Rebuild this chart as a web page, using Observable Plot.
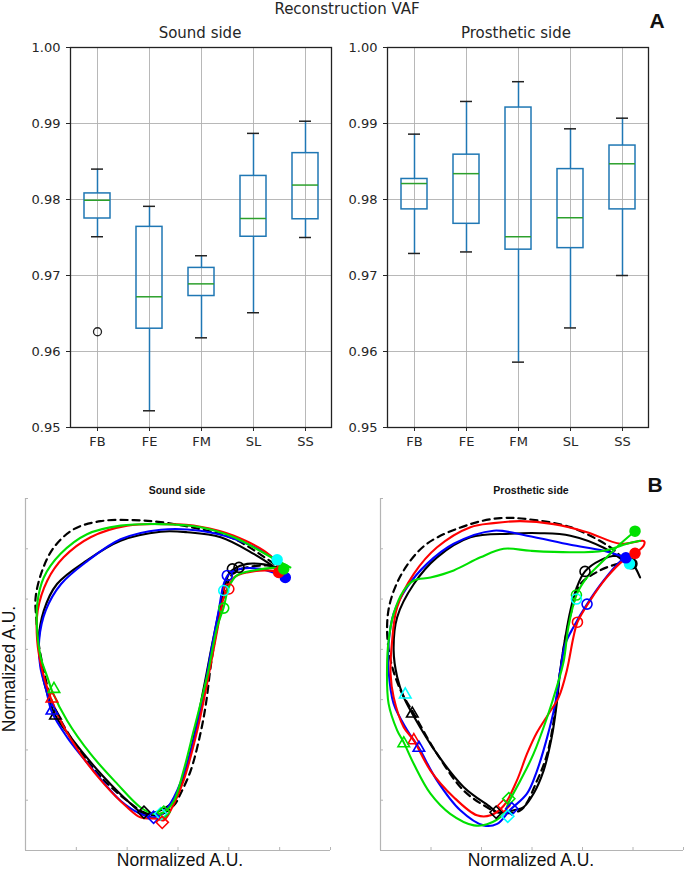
<!DOCTYPE html>
<html><head><meta charset="utf-8">
<script src="https://cdn.jsdelivr.net/npm/d3@7"></script>
<script src="https://cdn.jsdelivr.net/npm/@observablehq/plot@0.6"></script>
<style>
body{margin:0;background:#fff}
#fig{position:relative;width:685px;height:872px;overflow:hidden;background:#fff}
.t{position:absolute;white-space:nowrap;transform:translate(-50%,-50%);line-height:1}
</style></head><body><div id="fig"></div>
<script>
// ---------- Panel A data (box plot summaries) ----------
const cats = ["FB","FE","FM","SL","SS"];
const yTicks = [0.95,0.96,0.97,0.98,0.99,1.00];

const soundLow  = [0.9751,0.9522,0.9618,0.9651,0.9750];
const soundQ1   = [0.9775,0.9630,0.9673,0.9751,0.9774];
const soundMed  = [0.9799,0.9672,0.9689,0.9775,0.9819];
const soundQ3   = [0.9808,0.9764,0.9710,0.9831,0.9861];
const soundHigh = [0.9840,0.9791,0.9726,0.9887,0.9903];
const soundOutCat = ["FB"];
const soundOutVal = [0.9626];

const prosLow  = [0.9729,0.9731,0.9586,0.9631,0.9700];
const prosQ1   = [0.9787,0.9768,0.9734,0.9736,0.9787];
const prosMed  = [0.9821,0.9834,0.9751,0.9776,0.9847];
const prosQ3   = [0.9827,0.9859,0.9921,0.9840,0.9871];
const prosHigh = [0.9886,0.9929,0.9955,0.9893,0.9907];
const prosOutCat = [];
const prosOutVal = [];

// ---------- Panel B data (loops, normalized units) ----------
const seriesNames  = ["K","B","R","G","C"];
const seriesColors = ["#000000","#0000ff","#ff0000","#00e000","#00ffff"];

const soundDashed = [[4.89,5.70],[4.10,6.20],[3.44,6.39],[2.66,6.53],[2.13,6.57],[1.48,6.55],[0.95,6.39],[0.56,6.03],[0.33,5.57],[0.20,5.04],[0.21,4.64],[0.26,4.11],[0.36,3.58],[0.49,3.05],[0.66,2.65],[0.89,2.25],[1.21,1.79],[1.61,1.33],[2.00,0.99],[2.33,0.76],[2.62,0.70],[2.92,0.90],[3.05,1.13],[3.25,1.59],[3.44,2.32],[3.55,2.92],[3.65,3.71],[3.77,4.44],[3.87,4.90],[3.97,5.30],[4.10,5.53],[4.36,5.63],[4.75,5.67],[5.02,5.63]];
const soundBlack = [[4.85,5.67],[4.49,5.90],[3.84,6.23],[3.18,6.33],[2.66,6.34],[1.87,6.16],[1.21,5.77],[0.62,5.30],[0.36,4.77],[0.26,4.17],[0.30,3.71],[0.39,3.25],[0.59,2.68],[0.89,2.25],[1.54,1.46],[2.07,0.93],[2.33,0.73],[2.66,0.80],[2.92,0.99],[3.11,1.46],[3.31,2.25],[3.51,3.25],[3.70,4.24],[3.87,5.04],[4.00,5.50],[4.10,5.60],[4.36,5.70],[4.69,5.69],[4.95,5.63]];
const soundBlue = [[5.11,5.43],[4.89,5.80],[4.10,6.20],[3.44,6.36],[2.66,6.38],[1.87,6.19],[1.21,5.75],[0.70,5.30],[0.40,4.78],[0.27,4.20],[0.29,3.66],[0.41,3.18],[0.52,2.75],[0.82,2.25],[1.34,1.59],[1.87,0.99],[2.26,0.73],[2.52,0.66],[2.72,0.76],[2.92,1.06],[3.18,1.72],[3.44,2.78],[3.64,3.91],[3.80,4.77],[3.90,5.30],[4.00,5.50],[4.23,5.60],[4.62,5.60],[4.95,5.50],[5.11,5.43]];
const soundRed = [[5.02,5.53],[4.82,5.86],[4.10,6.26],[3.44,6.44],[2.79,6.49],[2.00,6.46],[1.28,6.23],[0.75,5.83],[0.43,5.37],[0.24,4.77],[0.23,4.17],[0.33,3.58],[0.49,3.05],[0.72,2.52],[1.08,1.92],[1.54,1.33],[2.00,0.86],[2.26,0.66],[2.59,0.63],[2.72,0.60],[2.92,0.93],[3.11,1.39],[3.38,2.39],[3.57,3.31],[3.77,4.37],[3.90,5.04],[3.97,5.21],[4.10,5.43],[4.36,5.53],[4.75,5.57],[5.02,5.53]];
const soundGreen = [[5.21,5.63],[4.89,5.80],[4.10,6.23],[3.44,6.43],[2.66,6.49],[1.87,6.46],[1.21,6.29],[0.69,5.90],[0.36,5.43],[0.23,4.90],[0.23,4.37],[0.30,3.84],[0.43,3.45],[0.52,3.18],[0.82,2.58],[1.28,1.92],[1.80,1.33],[2.26,0.86],[2.52,0.73],[2.72,0.76],[2.92,0.99],[3.11,1.59],[3.31,2.39],[3.57,3.45],[3.77,4.44],[3.90,4.84],[4.00,5.24],[4.16,5.47],[4.49,5.57],[4.89,5.62],[5.08,5.60]];

const soundFilled = [["B",5.11,5.43],["R",4.98,5.53],["G",5.08,5.60],["C",4.95,5.78]];
const soundOpen = [["K",4.07,5.60],["K",4.20,5.63],["B",3.97,5.47],["R",4.00,5.20],["C",3.90,5.17],["G",3.90,4.82]];
const soundTri = [["K",0.59,2.68],["B",0.52,2.78],["R",0.52,3.02],["G",0.56,3.21]];
const soundDia = [["K",2.33,0.76],["B",2.52,0.66],["C",2.66,0.73],["G",2.72,0.76],["R",2.69,0.56]];

const prosDashed = [[4.81,5.80],[4.55,6.03],[3.76,6.43],[2.90,6.59],[2.37,6.61],[1.78,6.49],[0.92,6.10],[0.46,5.57],[0.20,4.97],[0.13,4.44],[0.20,3.78],[0.40,3.18],[0.66,2.72],[1.12,1.92],[1.65,1.19],[2.11,0.86],[2.31,0.76],[2.77,0.80],[3.10,1.39],[3.30,1.92],[3.43,2.58],[3.56,3.58],[3.69,4.37],[3.82,4.90],[3.96,5.30],[4.22,5.50],[4.48,5.63],[4.81,5.73]];
const prosBlack = [[4.88,5.71],[4.42,6.02],[3.76,6.26],[3.16,6.31],[2.57,6.30],[1.78,6.23],[1.12,5.83],[0.66,5.30],[0.33,4.64],[0.26,3.98],[0.33,3.45],[0.46,3.05],[0.63,2.72],[1.12,1.92],[1.65,1.26],[2.18,0.86],[2.31,0.76],[2.64,0.80],[2.83,0.86],[3.03,1.13],[3.23,1.59],[3.39,2.25],[3.49,2.92],[3.56,3.58],[3.66,4.24],[3.76,4.77],[3.89,5.24],[4.05,5.55],[4.35,5.77],[4.68,5.86],[4.94,5.77],[5.14,5.43]];
const prosBlue = [[4.86,5.82],[4.42,5.96],[3.76,6.08],[2.90,6.26],[2.24,6.36],[1.45,6.10],[0.92,5.70],[0.53,5.24],[0.26,4.71],[0.16,4.11],[0.16,3.58],[0.26,2.92],[0.53,2.39],[0.76,2.04],[1.12,1.39],[1.58,0.80],[2.04,0.50],[2.31,0.53],[2.57,0.81],[2.90,1.13],[3.10,1.59],[3.30,2.25],[3.46,2.92],[3.56,3.58],[3.66,4.11],[3.82,4.44],[4.09,4.90],[4.42,5.37],[4.75,5.75],[4.86,5.82]];
const prosRed = [[5.04,5.91],[5.21,6.06],[5.22,6.15],[4.75,6.10],[4.09,6.33],[3.43,6.49],[2.77,6.55],[2.24,6.51],[1.78,6.43],[1.12,6.03],[0.66,5.50],[0.33,4.84],[0.23,4.17],[0.20,3.51],[0.26,3.05],[0.46,2.45],[0.66,2.19],[0.99,1.59],[1.45,1.06],[1.91,0.70],[2.18,0.70],[2.44,0.89],[2.70,1.39],[2.90,1.92],[3.10,2.35],[3.33,2.72],[3.53,3.05],[3.69,3.58],[3.82,4.24],[3.90,4.54],[4.15,4.97],[4.48,5.43],[4.81,5.77],[5.04,5.91]];
const prosGreen = [[5.14,6.16],[4.88,6.10],[4.42,5.96],[3.76,5.93],[2.97,5.96],[2.44,6.00],[1.98,5.83],[1.45,5.57],[0.99,5.43],[0.66,5.37],[0.46,5.17],[0.26,4.71],[0.16,4.17],[0.13,3.64],[0.16,2.92],[0.33,2.39],[0.46,2.15],[0.66,1.72],[0.99,1.13],[1.38,0.73],[1.85,0.50],[2.11,0.52],[2.44,0.73],[2.54,0.96],[2.77,1.39],[3.03,1.92],[3.30,2.65],[3.49,3.25],[3.63,3.78],[3.72,4.44],[3.88,5.08],[4.09,5.43],[4.42,5.77],[4.75,6.10],[5.04,6.35]];

const prosFilled = [["K",4.98,5.70],["C",4.93,5.70],["B",4.86,5.82],["R",5.04,5.91],["G",5.04,6.35]];
const prosOpen = [["K",4.05,5.55],["G",3.88,5.08],["C",3.88,5.00],["B",4.09,4.90],["R",3.90,4.54]];
const prosTri = [["C",0.49,3.10],["K",0.63,2.72],["R",0.66,2.19],["G",0.46,2.13],["B",0.76,2.04]];
const prosDia = [["K",2.29,0.76],["R",2.44,0.89],["G",2.54,1.03],["B",2.60,0.83],["C",2.52,0.68]];

// ---------- helpers ----------
const fig = document.getElementById("fig");
function place(node, left, top) {
  node.style.position = "absolute";
  node.style.left = left + "px";
  node.style.top = top + "px";
  fig.appendChild(node);
}
function label(text, x, y, style, rotate) {
  const d = document.createElement("div");
  d.className = "t";
  d.textContent = text;
  d.style.left = x + "px";
  d.style.top = y + "px";
  Object.assign(d.style, style);
  if (rotate) d.style.transform = "translate(-50%,-50%) rotate(-90deg)";
  fig.appendChild(d);
}

function boxPanel(low, q1, med, q3, high, outCat, outVal, marginLeft, marginRight) {
  const rows = cats.map((c, i) => ({cat: c, low: low[i], q1: q1[i], med: med[i], q3: q3[i], high: high[i]}));
  const outs = outCat.map((c, i) => ({cat: c, v: outVal[i]}));
  const blue = "#1f77b4";
  return Plot.plot({
    width: marginLeft + 261 + marginRight, height: 450,
    marginLeft, marginRight, marginTop: 47, marginBottom: 23,
    style: {fontFamily: "'DejaVu Sans', sans-serif", fontSize: "13px", color: "#262626", background: "transparent"},
    x: {type: "band", domain: cats, padding: 0},
    y: {domain: [0.95, 1.0]},
    marks: [
      Plot.gridY(yTicks, {stroke: "#b0b0b0", strokeOpacity: 1, strokeWidth: 0.9}),
      Plot.gridX({stroke: "#b0b0b0", strokeOpacity: 1, strokeWidth: 0.9}),
      Plot.axisY(yTicks, {tickFormat: d3.format(".2f"), tickSize: 4, tickPadding: 6, label: null, fontSize: 13}),
      Plot.axisX({tickSize: 4, tickPadding: 5, label: null, fontSize: 13}),
      Plot.ruleX(rows, {x: "cat", y1: "q3", y2: "high", stroke: blue, strokeWidth: 1.5}),
      Plot.ruleX(rows, {x: "cat", y1: "low", y2: "q1", stroke: blue, strokeWidth: 1.5}),
      Plot.barY(rows, {x: "cat", y1: "q1", y2: "q3", fill: "none", stroke: blue, strokeWidth: 1.5, insetLeft: 13, insetRight: 13}),
      Plot.tickY(rows, {x: "cat", y: "med", stroke: "#2ca02c", strokeWidth: 1.5, inset: 13}),
      Plot.tickY(rows, {x: "cat", y: "high", stroke: "#222", strokeWidth: 1.5, inset: 20}),
      Plot.tickY(rows, {x: "cat", y: "low", stroke: "#222", strokeWidth: 1.5, inset: 20}),
      Plot.dot(outs, {x: "cat", y: "v", r: 4, stroke: "#222", strokeWidth: 1.3, fill: "none"}),
      Plot.frame({stroke: "#222", strokeWidth: 1.3})
    ]
  });
}

function toRows(name, pts) { return pts.map(([x, y]) => ({s: name, x, y})); }
function mrows(list) { return list.map(([s, x, y]) => ({s, x, y})); }

function loopPanel(dashed, lines, filled, open, tri, dia, marginLeft, marginRight, width) {
  const lineRows = lines.flatMap(([n, p]) => toRows(n, p));
  const axisGray = "#b4b4b4";
  return Plot.plot({
    width, height: 400, marginLeft, marginRight, marginTop: 28, marginBottom: 20,
    style: {background: "transparent"},
    x: {domain: [0, 6]},
    y: {domain: [0, 7]},
    color: {domain: seriesNames, range: seriesColors},
    marks: [
      Plot.ruleX([0], {stroke: axisGray, strokeWidth: 1.2}),
      Plot.ruleY([0], {stroke: axisGray, strokeWidth: 1.2}),
      Plot.axisX(d3.range(1, 7), {tickSize: -3, tickFormat: () => "", stroke: axisGray, label: null}),
      Plot.axisY(d3.range(1, 8), {tickSize: -3, tickFormat: () => "", stroke: axisGray, label: null}),
      Plot.line(toRows("K", dashed), {x: "x", y: "y", stroke: "#000", strokeWidth: 2.2, strokeDasharray: "7,5", curve: "catmull-rom"}),
      Plot.line(lineRows, {x: "x", y: "y", z: "s", stroke: "s", strokeWidth: 2.1, curve: "catmull-rom"}),
      Plot.dot(mrows(tri), {x: "x", y: "y", stroke: "s", symbol: "triangle2", r: 5.5, strokeWidth: 1.6, fill: "none"}),
      Plot.dot(mrows(dia), {x: "x", y: "y", stroke: "s", symbol: "diamond2", r: 5.5, strokeWidth: 1.6, fill: "none"}),
      Plot.dot(mrows(open), {x: "x", y: "y", stroke: "s", symbol: "circle", r: 5, strokeWidth: 1.6, fill: "none"}),
      Plot.dot(mrows(filled), {x: "x", y: "y", stroke: "s", fill: "s", symbol: "circle", r: 5})
    ]
  });
}

// ---------- Panel A ----------
place(boxPanel(soundLow, soundQ1, soundMed, soundQ3, soundHigh, soundOutCat, soundOutVal, 70, 9), 0, 0);
place(boxPanel(prosLow, prosQ1, prosMed, prosQ3, prosHigh, prosOutCat, prosOutVal, 47, 37), 340, 0);

const dv = {fontFamily: "'DejaVu Sans', sans-serif", fontSize: "15px", color: "#262626"};
label("Reconstruction VAF", 347, 9, dv);
label("Sound side", 200, 33, dv);
label("Prosthetic side", 516, 33, dv);
label("A", 657, 20, {fontFamily: "'Liberation Sans', Arial, sans-serif", fontSize: "21px", fontWeight: "bold", color: "#111"});

// ---------- Panel B ----------
place(loopPanel(soundDashed, [["K", soundBlack], ["B", soundBlue], ["R", soundRed], ["G", soundGreen]],
  soundFilled, soundOpen, soundTri, soundDia, 25, 10, 340), 0, 470);
place(loopPanel(prosDashed, [["K", prosBlack], ["B", prosBlue], ["R", prosRed], ["G", prosGreen]],
  prosFilled, prosOpen, prosTri, prosDia, 40, 2, 345), 340, 470);

const ls = {fontFamily: "'Liberation Sans', Arial, sans-serif", color: "#111"};
label("Sound side", 177, 490, Object.assign({}, ls, {fontSize: "10.5px", fontWeight: "bold"}));
label("Prosthetic side", 531, 490, Object.assign({}, ls, {fontSize: "10.5px", fontWeight: "bold"}));
label("B", 655, 484, Object.assign({}, ls, {fontSize: "21px", fontWeight: "bold"}));
label("Normalized A.U.", 180, 861, Object.assign({}, ls, {fontSize: "17.5px"}));
label("Normalized A.U.", 531, 861, Object.assign({}, ls, {fontSize: "17.5px"}));
label("Normalized A.U.", 10, 669, Object.assign({}, ls, {fontSize: "17.5px"}), true);
</script></body></html>
